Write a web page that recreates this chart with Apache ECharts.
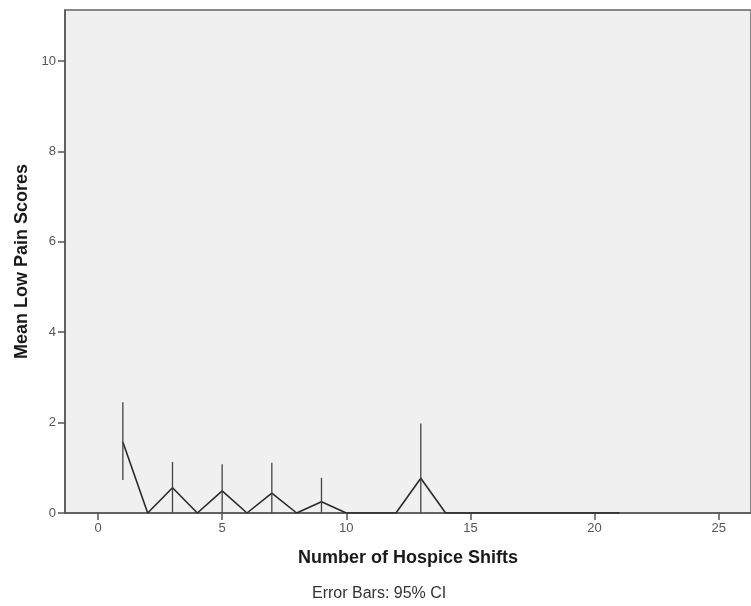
<!DOCTYPE html>
<html><head><meta charset="utf-8">
<script src="https://cdn.jsdelivr.net/npm/echarts@6/dist/echarts.min.js"></script>
<style>html,body{margin:0;padding:0;background:#fff}#c{width:751px;height:606px}</style>
</head><body><div id="c"></div>
<script>
var shifts = [1, 2, 3, 4, 5, 6, 7, 8, 9, 10, 12, 13, 14, 15, 16, 18, 20, 21];
var meanScores = [1.57, 0, 0.56, 0, 0.49, 0, 0.44, 0, 0.25, 0, 0, 0.77, 0, 0, 0, 0, 0, 0];
var ciShifts = [1, 3, 5, 7, 9, 13];
var ciLow = [0.73, 0, 0, 0, 0, 0];
var ciHigh = [2.45, 1.13, 1.08, 1.11, 0.78, 1.98];
var xTicks = [0, 5, 10, 15, 20, 25];
var yTicks = [0, 2, 4, 6, 8, 10];

var lineData = shifts.map(function (s, i) { return [s, meanScores[i]]; });
var ciData = ciShifts.map(function (s, i) { return [s, ciLow[i], ciHigh[i]]; });

var FONT = '"Liberation Sans", Arial, sans-serif';
var chart = echarts.init(document.getElementById('c'));
chart.setOption({
  animation: false,
  grid: { left: 65, top: 10, right: -2, bottom: 93, show: true, backgroundColor: '#f0f0f0', borderColor: '#666', borderWidth: 1.5 },
  graphic: [{
    type: 'text', left: 312, top: 586,
    style: { text: 'Error Bars: 95% CI', fill: '#333', font: '16px "Liberation Sans", Arial, sans-serif' }
  }],
  xAxis: {
    type: 'value', min: -1.33, max: 26.3,
    splitLine: { show: false },
    axisLine: { show: true, onZero: false, lineStyle: { color: '#555', width: 1.5 } },
    axisTick: { show: true, length: 7, lineStyle: { color: '#555', width: 1.5 }, customValues: xTicks },
    axisLabel: { color: '#555', fontSize: 13, fontFamily: FONT, margin: 9, customValues: xTicks },
    name: 'Number of Hospice Shifts', nameLocation: 'middle', nameGap: 36,
    nameTextStyle: { color: '#1a1a1a', fontSize: 18, fontWeight: 'bold', fontFamily: FONT }
  },
  yAxis: {
    type: 'value', min: 0, max: 11.13,
    splitLine: { show: false },
    axisLine: { show: true, onZero: false, lineStyle: { color: '#555', width: 1.5 } },
    axisTick: { show: true, length: 7, lineStyle: { color: '#555', width: 1.5 }, customValues: yTicks },
    axisLabel: { color: '#555', fontSize: 13, fontFamily: FONT, margin: 9, customValues: yTicks },
    name: 'Mean Low Pain Scores', nameLocation: 'middle', nameGap: 33,
    nameTextStyle: { color: '#1a1a1a', fontSize: 18, fontWeight: 'bold', fontFamily: FONT }
  },
  series: [{
    type: 'line', data: lineData, symbol: 'none',
    lineStyle: { color: '#2a2a2a', width: 1.6 }, z: 3
  }, {
    type: 'custom', data: ciData, z: 4,
    renderItem: function (params, api) {
      var lo = api.coord([api.value(0), api.value(1)]);
      var hi = api.coord([api.value(0), api.value(2)]);
      return { type: 'line', shape: { x1: lo[0], y1: lo[1], x2: hi[0], y2: hi[1] }, style: { stroke: '#444', lineWidth: 1.3 } };
    },
    encode: { x: 0, y: [1, 2] }
  }]
});
</script></body></html>
